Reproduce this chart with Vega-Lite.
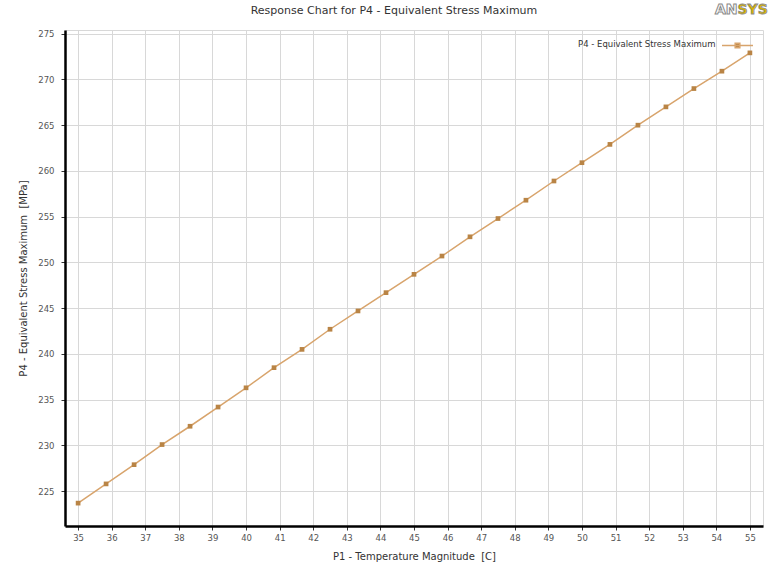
{
  "$schema": "https://vega.github.io/schema/vega-lite/v6.json",
  "width": 698,
  "height": 496,
  "autosize": "none",
  "padding": {"left": 65, "top": 30, "right": 8, "bottom": 55},
  "background": "white",
  "title": {
    "text": "Response Chart for P4 - Equivalent Stress Maximum",
    "font": "DejaVu Sans",
    "fontSize": 11,
    "fontWeight": "normal",
    "color": "#333333",
    "anchor": "middle",
    "frame": "group",
    "dx": -20,
    "offset": -13
  },
  "datasets": {
    "logoAN": [{"part": "AN"}],
    "logoSYS": [{"part": "SYS"}]
  },
  "data": {
    "values": [
      {"temp": 35, "stress": 223.7},
      {"temp": 35.833, "stress": 225.8},
      {"temp": 36.667, "stress": 227.9},
      {"temp": 37.5, "stress": 230.1},
      {"temp": 38.333, "stress": 232.1},
      {"temp": 39.167, "stress": 234.2},
      {"temp": 40, "stress": 236.3},
      {"temp": 40.833, "stress": 238.5},
      {"temp": 41.667, "stress": 240.5},
      {"temp": 42.5, "stress": 242.7},
      {"temp": 43.333, "stress": 244.7},
      {"temp": 44.167, "stress": 246.7},
      {"temp": 45, "stress": 248.7},
      {"temp": 45.833, "stress": 250.7},
      {"temp": 46.667, "stress": 252.8},
      {"temp": 47.5, "stress": 254.8},
      {"temp": 48.333, "stress": 256.8},
      {"temp": 49.167, "stress": 258.9},
      {"temp": 50, "stress": 260.9},
      {"temp": 50.833, "stress": 262.9},
      {"temp": 51.667, "stress": 265.0},
      {"temp": 52.5, "stress": 267.0},
      {"temp": 53.333, "stress": 269.0},
      {"temp": 54.167, "stress": 270.9},
      {"temp": 55, "stress": 272.9}
    ]
  },
  "layer": [
    {
      "mark": {"type": "line", "strokeWidth": 1.5},
      "encoding": {
        "x": {
          "field": "temp",
          "type": "quantitative",
          "scale": {"domain": [34.61, 55.39], "nice": false, "zero": false},
          "axis": {
            "title": "P1 - Temperature Magnitude \u00a0[C]",
            "values": [35,36,37,38,39,40,41,42,43,44,45,46,47,48,49,50,51,52,53,54,55],
            "labelOverlap": false,
            "labelPadding": 3,
            "titlePadding": 10
          }
        },
        "y": {
          "field": "stress",
          "type": "quantitative",
          "scale": {"domain": [221.2, 275.4], "nice": false, "zero": false},
          "axis": {
            "title": "P4 - Equivalent Stress Maximum \u00a0[MPa]",
            "values": [225,230,235,240,245,250,255,260,265,270,275],
            "labelOverlap": false,
            "labelPadding": 7,
            "titlePadding": 9
          }
        },
        "color": {
          "datum": "P4 - Equivalent Stress Maximum",
          "type": "nominal",
          "scale": {"range": ["#d8a46c"]},
          "legend": {
            "orient": "top-right",
            "offset": 7,
            "padding": 0,
            "title": "P4 - Equivalent Stress Maximum",
            "titleOrient": "left",
            "titleFont": "DejaVu Sans",
            "titleFontSize": 8.5,
            "titleFontWeight": "normal",
            "titleColor": "#333333",
            "titleBaseline": "middle",
            "titlePadding": 13,
            "labelExpr": "''",
            "labelOffset": 0,
            "symbolType": "M-2,0H2M-0.3,-0.3H0.3V0.3H-0.3Z",
            "symbolSize": 240,
            "symbolStrokeWidth": 1.5,
            "symbolStrokeColor": "#d8a46c",
            "symbolFillColor": "#b98445"
          }
        }
      }
    },
    {
      "mark": {"type": "point", "shape": "square", "filled": true, "size": 22, "color": "#b98445", "opacity": 1},
      "encoding": {
        "x": {
          "field": "temp",
          "type": "quantitative",
          "scale": {"domain": [34.61, 55.39], "nice": false, "zero": false},
          "axis": {
            "title": "P1 - Temperature Magnitude \u00a0[C]",
            "values": [35,36,37,38,39,40,41,42,43,44,45,46,47,48,49,50,51,52,53,54,55],
            "labelOverlap": false,
            "labelPadding": 3,
            "titlePadding": 10
          }
        },
        "y": {
          "field": "stress",
          "type": "quantitative",
          "scale": {"domain": [221.2, 275.4], "nice": false, "zero": false},
          "axis": {
            "title": "P4 - Equivalent Stress Maximum \u00a0[MPa]",
            "values": [225,230,235,240,245,250,255,260,265,270,275],
            "labelOverlap": false,
            "labelPadding": 7,
            "titlePadding": 9
          }
        }
      }
    },
    {
      "data": {"name": "logoAN"},
      "mark": {"type": "text", "clip": false, "align": "left", "baseline": "middle", "font": "DejaVu Sans", "fontSize": 14, "fontWeight": "bold", "fill": "#ffffff", "stroke": "#8a8a8a", "strokeWidth": 1},
      "encoding": {
        "x": {
          "datum": 53.96,
          "type": "quantitative",
          "scale": {"domain": [34.61, 55.39], "nice": false, "zero": false},
          "axis": {
            "title": "P1 - Temperature Magnitude \u00a0[C]",
            "values": [35,36,37,38,39,40,41,42,43,44,45,46,47,48,49,50,51,52,53,54,55],
            "labelOverlap": false,
            "labelPadding": 3,
            "titlePadding": 10
          }
        },
        "y": {
          "datum": 277.6,
          "type": "quantitative",
          "scale": {"domain": [221.2, 275.4], "nice": false, "zero": false},
          "axis": {
            "title": "P4 - Equivalent Stress Maximum \u00a0[MPa]",
            "values": [225,230,235,240,245,250,255,260,265,270,275],
            "labelOverlap": false,
            "labelPadding": 7,
            "titlePadding": 9
          }
        },
        "text": {"field": "part", "type": "nominal"}
      }
    },
    {
      "data": {"name": "logoSYS"},
      "mark": {"type": "text", "clip": false, "align": "left", "baseline": "middle", "font": "DejaVu Sans", "fontSize": 14, "fontWeight": "bold", "fill": "#d9b400", "stroke": "#8a8a8a", "strokeWidth": 0.8},
      "encoding": {
        "x": {
          "datum": 54.63,
          "type": "quantitative",
          "scale": {"domain": [34.61, 55.39], "nice": false, "zero": false},
          "axis": {
            "title": "P1 - Temperature Magnitude \u00a0[C]",
            "values": [35,36,37,38,39,40,41,42,43,44,45,46,47,48,49,50,51,52,53,54,55],
            "labelOverlap": false,
            "labelPadding": 3,
            "titlePadding": 10
          }
        },
        "y": {
          "datum": 277.6,
          "type": "quantitative",
          "scale": {"domain": [221.2, 275.4], "nice": false, "zero": false},
          "axis": {
            "title": "P4 - Equivalent Stress Maximum \u00a0[MPa]",
            "values": [225,230,235,240,245,250,255,260,265,270,275],
            "labelOverlap": false,
            "labelPadding": 7,
            "titlePadding": 9
          }
        },
        "text": {"field": "part", "type": "nominal"}
      }
    }
  ],
  "config": {
    "view": {"stroke": "#d8d8d8", "strokeWidth": 1},
    "axis": {
      "domainColor": "#000000",
      "domainWidth": 2.5,
      "gridColor": "#d8d8d8",
      "gridWidth": 1,
      "tickColor": "#333333",
      "tickSize": 4,
      "labelFont": "DejaVu Sans",
      "labelFontSize": 8.5,
      "labelColor": "#555555",
      "titleFont": "DejaVu Sans",
      "titleFontSize": 10,
      "titleFontWeight": "normal",
      "titleColor": "#333333"
    }
  }
}
